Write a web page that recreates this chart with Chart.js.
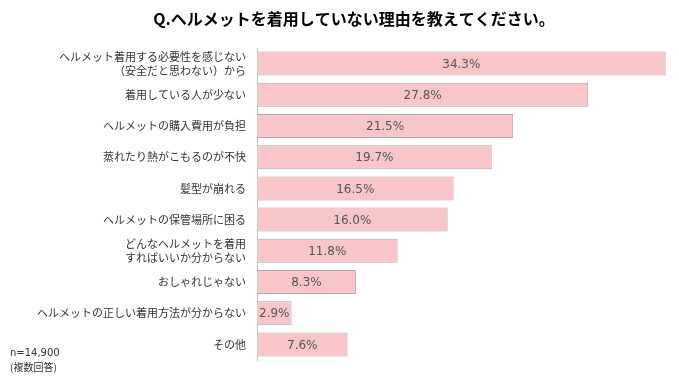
<!DOCTYPE html>
<html><head><meta charset="utf-8">
<script src="https://cdn.jsdelivr.net/npm/chart.js@4/dist/chart.umd.min.js"></script>
<style>html,body{margin:0;padding:0;background:#fff}#wrap{width:679px;height:384px;position:relative}</style>
</head><body><div id="wrap"><canvas id="c" width="679" height="384"></canvas></div>
<script>
const titleText = "Q.ヘルメットを着用していない理由を教えてください。";
const categories = [
  ["ヘルメット着用する必要性を感じない", "（安全だと思わない）から"],
  "着用している人が少ない",
  "ヘルメットの購入費用が負担",
  "蒸れたり熱がこもるのが不快",
  "髪型が崩れる",
  "ヘルメットの保管場所に困る",
  ["どんなヘルメットを着用", "すればいいか分からない"],
  "おしゃれじゃない",
  "ヘルメットの正しい着用方法が分からない",
  "その他"
];
const values = [34.3, 27.8, 21.5, 19.7, 16.5, 16.0, 11.8, 8.3, 2.9, 7.6];
const noteLines = ["n=14,900", "(複数回答)"];

const FONT = "'Noto Sans CJK JP', 'Noto Sans', sans-serif";
const NUMFONT = "'DejaVu Sans', 'Noto Sans CJK JP', sans-serif";

const overlay = {
  id: 'overlay',
  afterDatasetsDraw(chart) {
    const ctx = chart.ctx;
    const meta = chart.getDatasetMeta(0);
    ctx.save();
    ctx.font = "12px " + NUMFONT;
    ctx.fillStyle = "#555555";
    ctx.textAlign = "center";
    ctx.textBaseline = "middle";
    meta.data.forEach((bar, i) => {
      const x = (bar.base + bar.x) / 2;
      ctx.fillText(values[i].toFixed(1) + "%", x, bar.y + 1);
    });
    ctx.restore();
  },
  afterDraw(chart) {
    const ctx = chart.ctx;
    ctx.save();
    ctx.font = "bold 16px " + FONT;
    ctx.fillStyle = "#000";
    ctx.textAlign = "center";
    ctx.textBaseline = "middle";
    ctx.fillText(titleText, 354, 19);
    ctx.font = "10px " + NUMFONT;
    ctx.fillStyle = "#333";
    ctx.textAlign = "left";
    ctx.fillText(noteLines[0], 10, 353);
    ctx.font = "10px " + FONT;
    ctx.fillText(noteLines[1], 10, 367);
    ctx.restore();
  }
};

new Chart(document.getElementById('c'), {
  type: 'bar',
  data: {
    labels: categories,
    datasets: [{
      data: values,
      backgroundColor: '#F8C6C8',
      borderColor: '#A8A8A8',
      borderWidth: 1,
      borderSkipped: 'start',
      barPercentage: 0.77,
      categoryPercentage: 1.0
    }]
  },
  options: {
    indexAxis: 'y',
    responsive: false,
    animation: false,
    layout: { padding: { top: 48, bottom: 24, left: 0, right: 5 } },
    plugins: { legend: { display: false }, tooltip: { enabled: false }, title: { display: false } },
    scales: {
      x: { display: false, min: 0, max: 35 },
      y: {
        afterFit(scale) { scale.width = 257; },
        grid: { display: false },
        border: { display: true, color: '#BFBFBF', width: 1 },
        ticks: {
          autoSkip: false,
          color: '#333333',
          padding: 3,
          font: { family: FONT, size: 11, lineHeight: 1.3 }
        }
      }
    }
  },
  plugins: [overlay]
});
</script></body></html>
